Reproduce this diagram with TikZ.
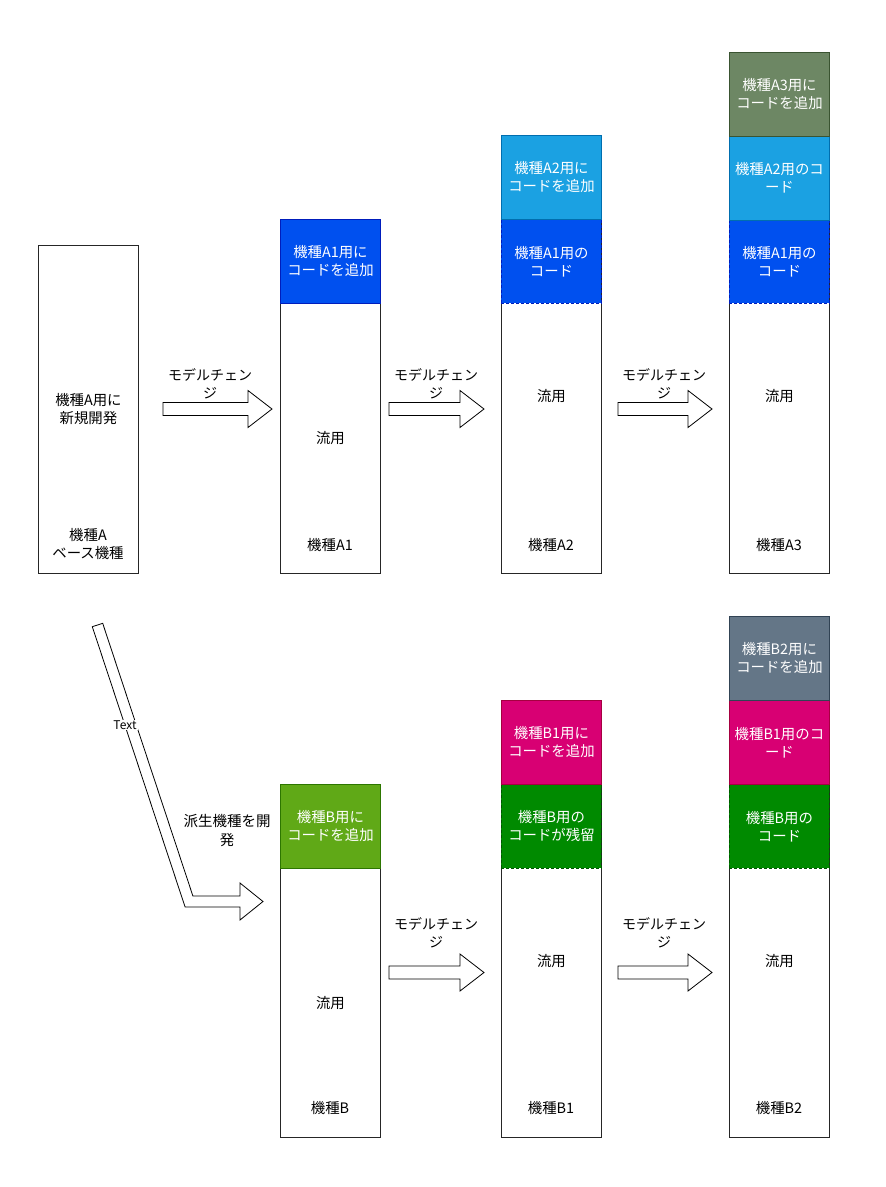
\documentclass[tikz,border=0pt]{standalone}
\usepackage{fontspec}
\setmainfont{Noto Sans CJK JP}
\definecolor{blueF}{HTML}{0050EF}\definecolor{blueD}{HTML}{001DBC}
\definecolor{lblueF}{HTML}{1BA1E2}\definecolor{lblueD}{HTML}{006EAF}
\definecolor{oliveF}{HTML}{6D8764}\definecolor{oliveD}{HTML}{3A5431}
\definecolor{limeF}{HTML}{60A917}\definecolor{limeD}{HTML}{2D7600}
\definecolor{magF}{HTML}{D80073}\definecolor{magD}{HTML}{A50040}
\definecolor{greenF}{HTML}{008A00}\definecolor{greenD}{HTML}{005700}
\definecolor{slateF}{HTML}{647687}\definecolor{slateD}{HTML}{314354}
\tikzset{
  boxtext/.style={font=\fontsize{14.4}{18}\selectfont, align=center},
  plainbox/.style={draw=black!85, fill=white, line width=0.9pt, inner sep=0pt, minimum width=100pt, anchor=north west, boxtext},
  codebox/.style n args={2}{draw=#2, fill=#1, text=white, line width=0.9pt, inner sep=0pt, minimum width=100pt, minimum height=84pt, anchor=north west, boxtext},
  oldbox/.style={dashed, dash pattern=on 3pt off 2pt},
  lbl/.style={boxtext},
  arrowlbl/.style={font=\fontsize{14}{18}\selectfont, align=center},
  arrowshape/.style={draw=black, fill=white, line width=0.8pt, line join=miter},
}
\begin{document}
\begin{tikzpicture}[x=1pt,y=-1pt]
\useasboundingbox (0,0) rectangle (886,1187);
% ---- top row ----
\node[plainbox, minimum height=328pt] (A) at (38,245) {機種A用に\\新規開発};
\node[lbl] (Alab) at (88,544.5) {機種A\\ベース機種};

\node[plainbox, minimum height=270pt] (A1w) at (280,303) {流用};
\node[codebox={blueF}{blueD}] (A1a) at (280,219) {機種A1用に\\コードを追加};
\node[lbl] (A1lab) at (330,545) {機種A1};

\node[plainbox, minimum height=354pt] (A2w) at (501,219) {流用};
\node[codebox={blueF}{blueD}, oldbox] (A2a) at (501,219) {機種A1用の\\コード};
\node[codebox={lblueF}{lblueD}] (A2b) at (501,135) {機種A2用に\\コードを追加};
\node[lbl] (A2lab) at (551,545) {機種A2};

\node[plainbox, minimum height=354pt] (A3w) at (729,219) {流用};
\node[codebox={blueF}{blueD}, oldbox] (A3a) at (729,219) {機種A1用の\\コード};
\node[codebox={lblueF}{lblueD}] (A3b) at (729,135.5) {機種A2用のコ\\ード};
\node[codebox={oliveF}{oliveD}] (A3c) at (729,52) {機種A3用に\\コードを追加};
\node[lbl] (A3lab) at (779,545) {機種A3};

% ---- bottom row ----
\node[plainbox, minimum height=269pt] (Bw) at (280,868) {流用};
\node[codebox={limeF}{limeD}] (Ba) at (280,783.5) {機種B用に\\コードを追加};
\node[lbl] (Blab) at (330,1108) {機種B};

\node[plainbox, minimum height=353pt] (B1w) at (501,784) {流用};
\node[codebox={greenF}{greenD}, oldbox] (B1a) at (501,784) {機種B用の\\コードが残留};
\node[codebox={magF}{magD}] (B1b) at (501,700) {機種B1用に\\コードを追加};
\node[lbl] (B1lab) at (551,1108) {機種B1};

\node[plainbox, minimum height=353pt] (B2w) at (729,784) {流用};
\node[codebox={greenF}{greenD}, oldbox] (B2a) at (729,784) {機種B用の\\コード};
\node[codebox={magF}{magD}] (B2b) at (729,700) {機種B1用のコ\\ード};
\node[codebox={slateF}{slateD}] (B2c) at (729,616) {機種B2用に\\コードを追加};
\node[lbl] (B2lab) at (779,1108) {機種B2};

% ---- block arrows ----
\foreach \xa/\xt/\yc in {163/272/409, 389/484/409, 618/712/409, 389/484/972.5, 618/712/972.5}{
  \draw[arrowshape] (\xa,\yc-6.5) -- (\xt-24,\yc-6.5) -- (\xt-24,\yc-18.5) -- (\xt,\yc)
     -- (\xt-24,\yc+18.5) -- (\xt-24,\yc+6.5) -- (\xa,\yc+6.5) -- cycle;
}
\node[arrowlbl] (m1) at (210,384) {モデルチェン\\ジ};
\node[arrowlbl] (m2) at (436,384) {モデルチェン\\ジ};
\node[arrowlbl] (m3) at (664,384) {モデルチェン\\ジ};
\node[arrowlbl] (m4) at (436,932.5) {モデルチェン\\ジ};
\node[arrowlbl] (m5) at (664,932.5) {モデルチェン\\ジ};

% ---- bent arrow ----
\draw[arrowshape] (92.3,626.7) -- (102.7,623.3) -- (192.9,896) -- (240,896) -- (240,883)
   -- (263,901.5) -- (240,920) -- (240,907) -- (185.1,907) -- cycle;
\node[fill=white, inner sep=1pt, font=\fontsize{12}{14}\selectfont] (txt) at (125,725) {Text};
\node[arrowlbl, font=\fontsize{14.5}{19}\selectfont] (hasei) at (227,830) {派生機種を開\\発};
\end{tikzpicture}
\end{document}
